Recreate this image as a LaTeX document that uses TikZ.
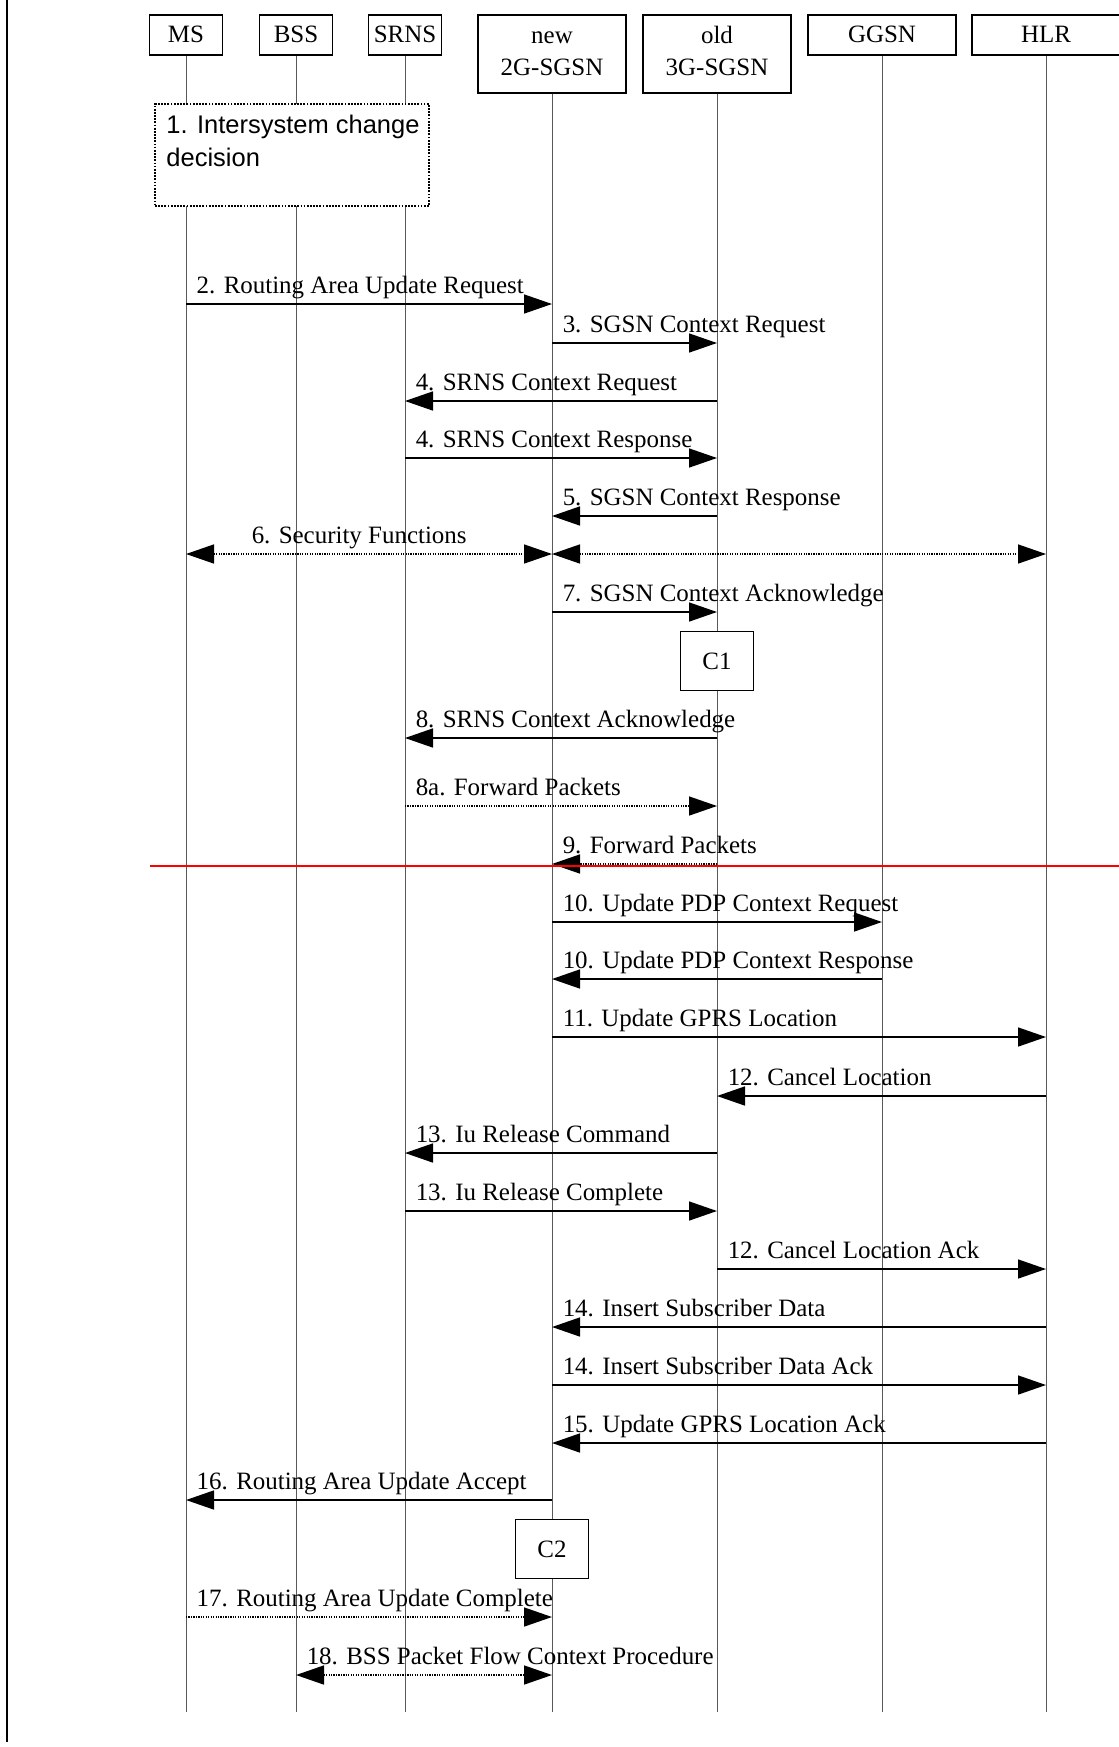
\documentclass[tikz,border=0pt]{standalone}
\usepackage{fontspec}
\setmainfont{Liberation Serif}
\newfontfamily\decfont{Liberation Sans}
\usepackage{tikz}
\usetikzlibrary{arrows.meta}

\begin{document}
\begin{tikzpicture}[x=0.2mm, y=-0.2mm,
  font=\fontsize{14.2}{18.2}\selectfont,
  entity/.style={draw, line width=0.9pt, fill=white, inner sep=0pt, align=center,
    minimum width=14.6mm, minimum height=8mm, anchor=north},
  widebox/.style={minimum width=29.5mm},
  tallbox/.style={minimum height=15.6mm},
  lifeline/.style={black!65, line width=0.5pt},
  msg/.style={line width=0.85pt, -{Triangle[length=5.6mm, width=3.8mm]}},
  dotmsg/.style={msg, dash pattern=on 0.7pt off 0.7pt},
  twoway/.style={{Triangle[length=5.6mm, width=3.8mm]}-{Triangle[length=5.6mm, width=3.8mm]}},
  lbl/.style={anchor=base west, inner sep=0pt, xshift=2mm, yshift=2.1mm},
  cbox/.style={draw, line width=0.9pt, fill=white, minimum width=14.6mm, minimum height=11.8mm}]
  \useasboundingbox (0,0) rectangle (1119,1747);

  % --- margin rule ---
  \coordinate (rule-top) at (7,0);
  \coordinate (rule-bot) at (7,1742);
  \draw[line width=1.2pt] (rule-top) -- (rule-bot);

  % --- entities ---
  \node[entity] (ms) at (186,14) {MS};
  \node[entity] (bss) at (296,14) {BSS};
  \node[entity] (srns) at (405,14) {SRNS};
  \node[entity, widebox, tallbox] (newsgsn) at (552,14) {new\vphantom{l}\\2G-SGSN\vphantom{g}};
  \node[entity, widebox, tallbox] (oldsgsn) at (717,14) {old\\3G-SGSN\vphantom{g}};
  \node[entity, widebox] (ggsn) at (882,14) {GGSN};
  \node[entity, widebox] (hlr) at (1046,14) {HLR};

  % --- lifelines ---
  \coordinate (ms-end) at (ms |- 0,1712);
  \coordinate (bss-end) at (bss |- 0,1712);
  \coordinate (srns-end) at (srns |- 0,1712);
  \coordinate (newsgsn-end) at (newsgsn |- 0,1712);
  \coordinate (oldsgsn-end) at (oldsgsn |- 0,1712);
  \coordinate (ggsn-end) at (ggsn |- 0,1712);
  \coordinate (hlr-end) at (hlr |- 0,1712);
  \draw[lifeline] (ms) -- (ms-end);
  \draw[lifeline] (bss) -- (bss-end);
  \draw[lifeline] (srns) -- (srns-end);
  \draw[lifeline] (newsgsn) -- (newsgsn-end);
  \draw[lifeline] (oldsgsn) -- (oldsgsn-end);
  \draw[lifeline] (ggsn) -- (ggsn-end);
  \draw[lifeline] (hlr) -- (hlr-end);

  % 1. decision box
  \node[draw, fill=white, line width=1pt, dash pattern=on 1pt off 0.8pt,
    minimum width=54.8mm, minimum height=20.4mm] (decide) at (292,155) {};
  \node[anchor=north west, inner sep=0pt, align=left,
    font=\decfont\fontsize{14.5}{18.8}\selectfont] (decide-text)
    at ([xshift=2.4mm, yshift=-2.4mm]decide.north west) {1. Intersystem change\\decision};

  % --- messages ---
  \draw[msg] (ms |- 0,304) node[lbl] (l2) {2. Routing Area Update Request} -- (newsgsn |- 0,304);
  \draw[msg] (newsgsn |- 0,343) node[lbl] (l3) {3. SGSN Context Request} -- (oldsgsn |- 0,343);
  \draw[msg] (oldsgsn |- 0,401) -- (srns |- 0,401) node[lbl] (l4a) {4. SRNS Context Request};
  \draw[msg] (srns |- 0,458) node[lbl] (l4b) {4. SRNS Context Response} -- (oldsgsn |- 0,458);
  \draw[msg] (oldsgsn |- 0,516) -- (newsgsn |- 0,516) node[lbl] (l5) {5. SGSN Context Response};
  \draw[dotmsg, twoway] (ms |- 0,554) node[lbl, xshift=11mm] (l6) {6. Security Functions} -- (newsgsn |- 0,554);
  \draw[dotmsg, twoway] (newsgsn |- 0,554) -- (hlr |- 0,554);
  \draw[msg] (newsgsn |- 0,612) node[lbl] (l7) {7. SGSN Context Acknowledge} -- (oldsgsn |- 0,612);
  \node[cbox] (c1) at (oldsgsn |- 0,661) {C1};
  \draw[msg] (oldsgsn |- 0,738) -- (srns |- 0,738) node[lbl] (l8) {8. SRNS Context Acknowledge};
  \draw[dotmsg] (srns |- 0,806) node[lbl] (l8a) {8a. Forward Packets} -- (oldsgsn |- 0,806);
  \draw[dotmsg] (oldsgsn |- 0,864) -- (newsgsn |- 0,864) node[lbl] (l9) {9. Forward Packets};

  % cut line
  \coordinate (cut-l) at (150,866);
  \coordinate (cut-r) at (1119,866);
  \draw[red, line width=0.9pt] (cut-l) -- (cut-r);

  \draw[msg] (newsgsn |- 0,922) node[lbl] (l10a) {10. Update PDP Context Request} -- (ggsn |- 0,922);
  \draw[msg] (ggsn |- 0,979) -- (newsgsn |- 0,979) node[lbl] (l10b) {10. Update PDP Context Response};
  \draw[msg] (newsgsn |- 0,1037) node[lbl] (l11) {11. Update GPRS Location} -- (hlr |- 0,1037);
  \draw[msg] (hlr |- 0,1096) -- (oldsgsn |- 0,1096) node[lbl] (l12a) {12. Cancel Location};
  \draw[msg] (oldsgsn |- 0,1153) -- (srns |- 0,1153) node[lbl] (l13a) {13. Iu Release Command};
  \draw[msg] (srns |- 0,1211) node[lbl] (l13b) {13. Iu Release Complete} -- (oldsgsn |- 0,1211);
  \draw[msg] (oldsgsn |- 0,1269) node[lbl] (l12b) {12. Cancel Location Ack} -- (hlr |- 0,1269);
  \draw[msg] (hlr |- 0,1327) -- (newsgsn |- 0,1327) node[lbl] (l14a) {14. Insert Subscriber Data};
  \draw[msg] (newsgsn |- 0,1385) node[lbl] (l14b) {14. Insert Subscriber Data Ack} -- (hlr |- 0,1385);
  \draw[msg] (hlr |- 0,1443) -- (newsgsn |- 0,1443) node[lbl] (l15) {15. Update GPRS Location Ack};
  \draw[msg] (newsgsn |- 0,1500) -- (ms |- 0,1500) node[lbl] (l16) {16. Routing Area Update Accept};
  \node[cbox] (c2) at (newsgsn |- 0,1549) {C2};
  \draw[dotmsg] (ms |- 0,1617) node[lbl] (l17) {17. Routing Area Update Complete} -- (newsgsn |- 0,1617);
  \draw[dotmsg, twoway] (bss |- 0,1675) node[lbl] (l18) {18. BSS Packet Flow Context Procedure} -- (newsgsn |- 0,1675);
\end{tikzpicture}
\end{document}
